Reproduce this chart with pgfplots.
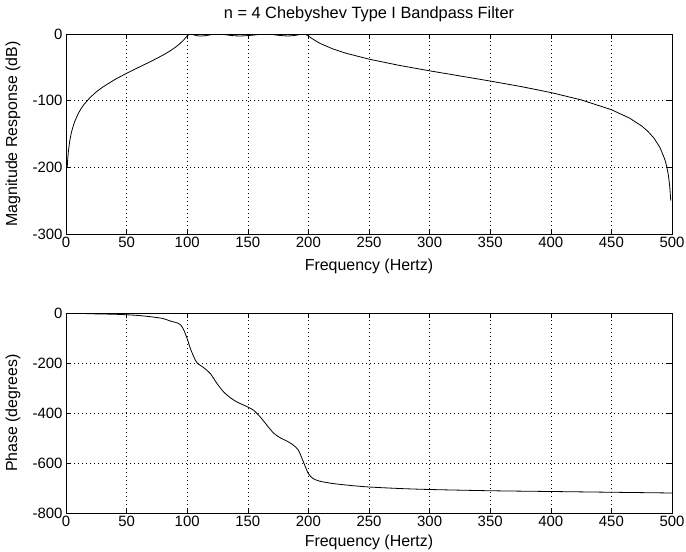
\documentclass[border=0pt]{standalone}
\usepackage{fontspec}
\setmainfont{Liberation Sans}
\usepackage{pgfplots}
\pgfplotsset{compat=1.18}
\pgfplotsset{
  mat/.style={
    width=606bp, height=200bp, scale only axis,
    xmin=0, xmax=500, xtick={0,50,...,500},
    grid=major,
    major grid style={black, line width=0.45bp, dash pattern=on 0.7bp off 3.3bp},
    tick align=inside, tick pos=both, major tick length=5bp,
    axis line style={line width=0.9bp},
    every tick/.style={black, line width=0.6bp},
    ticklabel style={font=\fontsize{15}{18}\selectfont},
    /pgf/number format/assume math mode=true,
    scaled ticks=false,
    xlabel={Frequency (Hertz)},
    every axis x label/.style={at={(axis description cs:0.5,0)}, anchor=center, yshift=-32bp, font=\fontsize{16}{19}\selectfont},
    every axis y label/.style={at={(axis description cs:-0.0875,0.5)}, anchor=center, rotate=90, font=\fontsize{16}{19}\selectfont},
  }
}
\begin{document}
\begin{tikzpicture}
\useasboundingbox (0bp,0bp) rectangle (686bp,-552bp);
\begin{axis}[mat, at={(66bp,-34bp)}, anchor=north west,
  ymin=-300, ymax=0, ytick={-300,-200,-100,0},
  ylabel={Magnitude Response (dB)},
  title={n = 4 Chebyshev Type I Bandpass Filter},
  every axis title/.style={at={(axis description cs:0.5,1)}, anchor=center, yshift=20bp, font=\fontsize{16.4}{19}\selectfont},
]
\addplot[black, line width=0.8bp] coordinates {
(1,-199.8) (1.5,-185.7) (2,-175.7) (3,-161.6) (4,-151.6) (5,-143.9) (7,-132.1)
(10,-119.7) (12.5,-111.8) (15,-105.3) (20,-95.0) (25,-86.8) (30,-80.0) (40,-68.6)
(50,-58.9) (60,-50.0) (70,-41.2) (80,-31.7) (85,-26.4) (90,-20.3) (94,-14.4)
(97,-9.1) (99,-5.0) (100,-3.0) (101,-1.25) (102,-0.22) (102.8,0) (104,-0.5)
(105,-1.05) (106.5,-1.85) (108,-2.51) (109.5,-2.85) (111.3,-3.0) (113,-2.85)
(115,-2.48) (117.5,-1.8) (120,-0.94) (122.5,-0.3) (125.3,0) (127.5,-0.18)
(130,-0.70) (132.5,-1.3) (135,-1.96) (139,-2.7) (143.9,-3.0) (149,-2.5)
(155,-1.59) (160,-0.49) (164.6,0) (167,-0.15) (170,-0.68) (175,-1.90)
(179,-2.6) (183,-3.0) (186.5,-2.6) (190,-1.83) (193,-0.64) (195.6,0)
(198,-0.92) (199,-1.84) (200,-3.0) (201,-4.25) (203,-6.78) (205,-9.18)
(210,-14.41) (220,-22.26) (230,-28.35) (250,-37.71) (275,-47.08) (300,-55.23)
(325,-62.89) (350,-70.57) (375,-78.68) (400,-87.78) (425,-98.77) (450,-113.54)
(465,-126.2) (475,-138.0) (480,-145.8) (485,-155.9) (490,-170.0) (494,-187.7)
(495,-194.1) (496,-201.8) (497,-211.8) (498,-225.9) (499,-250.0)
};
\end{axis}
\begin{axis}[mat, at={(66bp,-313bp)}, anchor=north west,
  ymin=-800, ymax=0, ytick={-800,-600,-400,-200,0},
  ylabel={Phase (degrees)},
  every axis x label/.append style={yshift=3bp},
]
\addplot[black, line width=0.8bp, smooth, tension=0.4] coordinates {
(0,0) (10,-1) (20,-3) (30,-4) (40,-5) (50,-7) (60,-10) (70,-15) (80,-22)
(86,-32) (92,-40) (95,-50) (97.3,-69) (100,-103) (102.7,-143) (105.5,-176)
(108.2,-200) (113.7,-219) (119.2,-243) (124.7,-283) (130.1,-316) (135.6,-339)
(141.1,-356) (150,-376) (154.8,-389) (160.3,-416) (165.8,-449) (171.2,-480)
(176.7,-499) (182.2,-512) (187.7,-529) (191.8,-549) (195.9,-596) (200,-643)
(204.1,-663) (209.6,-673) (220,-682) (235,-690) (250,-696) (275,-702)
(300,-706) (350,-711) (400,-714) (450,-717) (500,-720)
};
\end{axis}
\end{tikzpicture}
\end{document}
